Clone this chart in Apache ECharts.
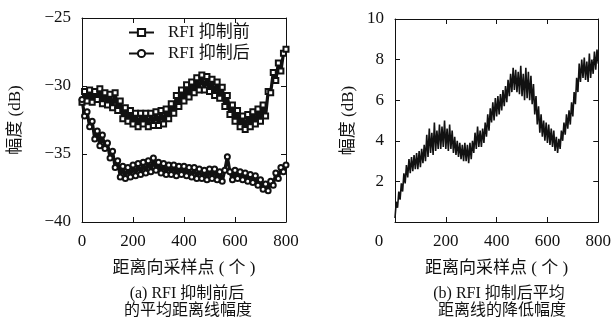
<!DOCTYPE html>
<html>
<head>
<meta charset="utf-8">
<script src="https://cdn.jsdelivr.net/npm/echarts@6/dist/echarts.min.js"></script>
<style>
html, body { margin: 0; padding: 0; background: #fff; }
#chart { width: 614px; height: 328px; }
</style>
</head>
<body>
<div id="chart"></div>
<script>
// sample spacing along the range axis
const stepA = 10
const stepB = 5

// (a) mean range-line amplitude, dB
const beforeDb = [
  -31.2, -30.4, -31.1, -30.3, -31.2, -30.4, -31.0, -30.2, -31.3, -30.5,
  -31.4, -30.6, -31.6, -30.5, -31.8, -31.1, -32.4, -31.6, -32.6, -31.8,
  -32.8, -32.0, -33.0, -32.0, -32.8, -32.0, -33.0, -32.0, -32.9, -31.9,
  -32.9, -31.8, -32.8, -31.7, -32.4, -31.3, -32.0, -30.7, -31.5, -30.3,
  -31.1, -29.9, -30.8, -29.7, -30.5, -29.4, -30.3, -29.2, -30.3, -29.3,
  -30.4, -29.5, -30.7, -29.7, -30.9, -30.1, -31.5, -30.7, -32.1, -31.4,
  -32.6, -31.8, -33.0, -32.2, -33.2, -32.1, -33.0, -31.9, -32.8, -31.7,
  -32.6, -31.4, -32.2, -30.4, -30.5, -29.0, -29.6, -28.3, -28.9, -27.6,
  -27.3
]
const afterDb = [
  -31.0, -32.2, -31.9, -33.0, -32.6, -33.9, -33.3, -34.4, -33.6, -34.6,
  -34.2, -35.3, -34.8, -36.0, -35.5, -36.7, -35.9, -36.8, -36.0, -36.7,
  -35.8, -36.6, -35.7, -36.5, -35.6, -36.4, -35.5, -36.3, -35.3, -36.2,
  -35.6, -36.4, -35.7, -36.5, -35.8, -36.5, -35.8, -36.6, -35.9, -36.5,
  -35.9, -36.6, -36.0, -36.7, -36.0, -36.8, -36.1, -36.8, -36.2, -36.9,
  -36.1, -36.8, -36.1, -36.9, -36.3, -37.0, -36.2, -35.2, -36.3, -36.9,
  -36.2, -36.8, -36.3, -36.9, -36.4, -37.0, -36.5, -37.1, -36.6, -37.3,
  -36.9, -37.6, -37.2, -37.7, -37.0, -37.3, -36.4, -36.8, -36.0, -36.3,
  -35.8
]

// (b) reduction after suppression, dB
const reductionDb = [
  0.2, 1.0, 0.7, 1.5, 1.1, 1.9, 1.5, 2.4, 1.9, 2.8,
  2.2, 3.1, 2.4, 3.2, 2.5, 3.3, 2.6, 3.4, 2.6, 3.5,
  2.7, 3.6, 2.9, 3.8, 3.0, 4.3, 3.2, 4.6, 3.4, 4.4,
  3.3, 4.9, 3.5, 4.5, 3.6, 4.8, 3.6, 4.7, 3.7, 5.0,
  3.6, 4.6, 3.5, 4.8, 3.6, 4.5, 3.4, 4.2, 3.3, 4.0,
  3.2, 3.9, 3.1, 3.8, 3.0, 3.9, 3.0, 3.8, 2.9, 3.9,
  3.1, 4.0, 3.4, 4.4, 3.6, 4.7, 3.7, 4.5, 3.7, 4.6,
  3.9, 4.9, 4.2, 5.3, 4.5, 5.6, 4.9, 5.9, 5.0, 6.1,
  5.2, 6.2, 5.3, 6.3, 5.5, 6.5, 5.7, 6.7, 5.9, 7.0,
  6.2, 7.3, 6.4, 7.6, 6.5, 7.5, 6.4, 7.4, 6.3, 7.7,
  6.2, 7.3, 6.0, 7.6, 6.1, 7.4, 6.0, 7.2, 5.8, 6.8,
  5.3, 6.2, 4.8, 5.7, 4.4, 5.3, 4.2, 5.0, 4.0, 4.9,
  3.9, 4.8, 3.8, 4.6, 3.7, 4.5, 3.5, 4.2, 3.4, 4.1,
  3.6, 4.5, 4.0, 4.9, 4.3, 5.3, 4.6, 5.5, 4.8, 5.9,
  5.2, 6.4, 5.8, 7.1, 6.4, 7.8, 6.9, 8.0, 7.1, 8.1,
  7.0, 7.9, 6.9, 8.3, 7.1, 8.0, 7.3, 8.4, 7.5, 8.5,
  7.8
]

const seriesNames = ['RFI 抑制前', 'RFI 抑制后']
const xTitle = '距离向采样点 ( 个 )'
const yTitle = '幅度 (dB)'
const captionA = ['(a) RFI 抑制前后', '的平均距离线幅度']
const captionB = ['(b) RFI 抑制后平均', '距离线的降低幅度']

const FONT = '"Liberation Serif", "Noto Sans CJK SC", serif'
const INK = '#111'
const FS = 17

function fmtNum(v) {
    return v < 0 ? '\u2212' + Math.abs(v) : String(v)
}

function xAxisFor(grid, top, hideZero) {
    return {
        gridIndex: grid,
        type: 'value',
        min: 0,
        max: 800,
        interval: 200,
        position: top ? 'top' : 'bottom',
        axisLine: { onZero: false, lineStyle: { color: INK, width: 1 } },
        axisTick: { inside: true, length: 5, lineStyle: { color: INK } },
        axisLabel: {
            show: !top,
            color: INK,
            fontFamily: FONT,
            fontSize: FS,
            margin: 11,
            formatter: v => (hideZero && v === 0) ? '' : fmtNum(v)
        },
        splitLine: { show: false },
        name: top ? '' : xTitle,
        nameLocation: 'middle',
        nameGap: 38,
        nameTextStyle: { color: INK, fontFamily: FONT, fontSize: FS }
    }
}

function yAxisFor(grid, right, min, max, interval, gap, hideZero) {
    return {
        gridIndex: grid,
        type: 'value',
        min: min,
        max: max,
        interval: interval,
        position: right ? 'right' : 'left',
        axisLine: { onZero: false, lineStyle: { color: INK, width: 1 } },
        axisTick: { inside: true, length: 5, lineStyle: { color: INK } },
        axisLabel: {
            show: !right,
            color: INK,
            fontFamily: FONT,
            fontSize: FS,
            margin: 11,
            formatter: v => (hideZero && v === 0) ? '' : fmtNum(v)
        },
        splitLine: { show: false },
        name: right ? '' : yTitle,
        nameLocation: 'middle',
        nameGap: gap,
        nameTextStyle: { color: INK, fontFamily: FONT, fontSize: FS }
    }
}

function captionText(x, y, text, size) {
    return {
        type: 'text',
        x: x,
        y: y,
        style: {
            text: text,
            fill: INK,
            font: size + 'px ' + FONT,
            align: 'center',
            verticalAlign: 'middle'
        }
    }
}

const chart = echarts.init(document.getElementById('chart'))

chart.setOption({
    animation: false,
    backgroundColor: '#fff',
    grid: [
        { left: 82, top: 18, width: 204, height: 204 },
        { left: 395, top: 19, width: 205, height: 203 }
    ],
    xAxis: [
        xAxisFor(0, false, false),
        xAxisFor(0, true, false),
        xAxisFor(1, false, true),
        xAxisFor(1, true, false)
    ],
    yAxis: [
        yAxisFor(0, false, -40, -25, 5, 58, false),
        yAxisFor(0, true, -40, -25, 5, 0, false),
        yAxisFor(1, false, 0, 10, 2, 38, true),
        yAxisFor(1, true, 0, 10, 2, 0, false)
    ],
    legend: {
        data: seriesNames,
        orient: 'vertical',
        left: 128,
        top: 24,
        padding: 0,
        itemWidth: 25,
        itemHeight: 9,
        itemGap: 4,
        textStyle: { color: INK, fontFamily: FONT, fontSize: FS, padding: [0, 0, 0, 9] }
    },
    series: [
        {
            name: seriesNames[0],
            type: 'line',
            xAxisIndex: 0,
            yAxisIndex: 0,
            data: beforeDb.map((v, i) => [i * stepA, v]),
            symbol: 'emptyRect',
            symbolSize: 5,
            showAllSymbol: true,
            color: INK,
            lineStyle: { color: INK, width: 3.2 },
            itemStyle: { color: INK, borderColor: INK, borderWidth: 1 }
        },
        {
            name: seriesNames[1],
            type: 'line',
            xAxisIndex: 0,
            yAxisIndex: 0,
            data: afterDb.map((v, i) => [i * stepA, v]),
            symbol: 'emptyCircle',
            symbolSize: 5,
            showAllSymbol: true,
            color: INK,
            lineStyle: { color: INK, width: 3.2 },
            itemStyle: { color: INK, borderColor: INK, borderWidth: 1 }
        },
        {
            name: 'reduction',
            type: 'line',
            xAxisIndex: 2,
            yAxisIndex: 2,
            data: reductionDb.map((v, i) => [i * stepB, v]),
            showSymbol: false,
            symbol: 'none',
            lineStyle: { color: INK, width: 1.6 }
        }
    ],
    graphic: [
        captionText(379, 242, '0', FS),
        captionText(187, 294, captionA[0], 16),
        captionText(188, 311, captionA[1], 16),
        captionText(499, 294, captionB[0], 16),
        captionText(502, 311, captionB[1], 16)
    ]
})
</script>
</body>
</html>
